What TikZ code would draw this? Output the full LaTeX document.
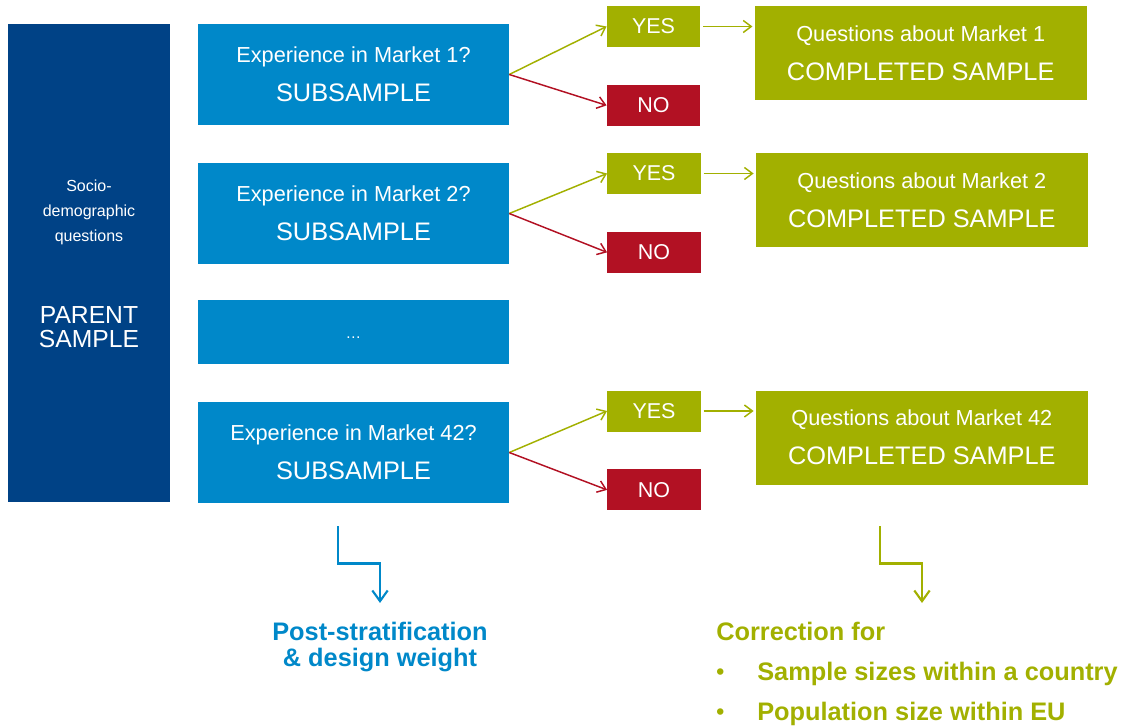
\documentclass[tikz,border=0pt]{standalone}
\usepackage{fontspec}
\setmainfont{Liberation Sans}
\usetikzlibrary{positioning,arrows.meta}
\definecolor{parentblue}{RGB}{0,66,134}
\definecolor{subblue}{RGB}{0,136,201}
\definecolor{yesgreen}{RGB}{162,176,0}
\definecolor{nored}{RGB}{178,17,35}
\newcommand\qsize{\fontsize{16.3}{29}\selectfont}
\newcommand\capsize{\fontsize{19}{29}\selectfont}
\newcommand\dotitem{\makebox[30.75pt][l]{\raisebox{0.6pt}{\fontsize{17}{17}\selectfont •}}}
\tikzset{
  boxtext/.style={inner sep=0pt,text=white,align=center},
}

\begin{document}
\begin{tikzpicture}[x=0.75pt,y=-0.75pt,
   parentbox/.style={boxtext,fill=parentblue,minimum width=121.5pt,minimum height=358.5pt},
   subbox/.style={boxtext,fill=subblue,minimum width=233.25pt,minimum height=75.75pt,font=\capsize},
   yesbox/.style={boxtext,fill=yesgreen,minimum width=70pt,minimum height=30.75pt,font=\fontsize{16.1}{19}\selectfont},
   nobox/.style={yesbox,fill=nored},
   donebox/.style={boxtext,fill=yesgreen,minimum width=249pt,minimum height=70.5pt,font=\capsize},
   yesline/.style={draw=yesgreen,line width=1.1pt,-{Straight Barb[length=6pt,width=9pt]}},
   noline/.style={yesline,draw=nored},
   wtarrow/.style={line width=1.6pt,-{Straight Barb[length=8pt,width=11.5pt]}}]
\useasboundingbox (0,0) rectangle (1126,727);
% Parent sample
\node[parentbox] (parent) at (89,263) {};
\node[boxtext,font=\fontsize{12}{19}\selectfont] (socio) at (89,212.5) {Socio-\\demographic\\questions};
\node[boxtext,font=\fontsize{18.5}{18}\selectfont] (ps) at (89,327.5) {PARENT\\SAMPLE};
% Subsamples
\node[subbox] (s1) at (353.5,74.5) {{\qsize Experience in Market 1?}\\SUBSAMPLE};
\node[subbox] (s2) at (353.5,213.5) {{\qsize Experience in Market 2?}\\SUBSAMPLE};
\node[subbox,minimum height=48pt,font=\fontsize{11.7}{14}\selectfont,text height=11pt,text depth=2pt] (sdots) at (353.5,332) {…};
\node[subbox] (s42) at (353.5,452.5) {{\qsize Experience in Market 42?}\\SUBSAMPLE};
% Market 1
\node[yesbox] (y1) at (653.5,26.5) {YES};
\node[nobox,below=28pt of y1] (n1) {NO};
\node[donebox,below right=0pt and 40.5pt of y1.north east] (c1) {{\qsize Questions about Market 1}\\COMPLETED SAMPLE};
\draw[yesline] (s1.east) -- (y1.west);
\draw[noline] (s1.east) -- (n1.west);
\draw[yesline,shorten <=2pt,shorten >=1.5pt] (y1.east) -- (y1.east -| c1.west);
% Market 2
\node[yesbox] (y2) at (654,173.5) {YES};
\node[nobox,below=28pt of y2] (n2) {NO};
\node[donebox,below right=0pt and 41pt of y2.north east] (c2) {{\qsize Questions about Market 2}\\COMPLETED SAMPLE};
\draw[yesline] (s2.east) -- (y2.west);
\draw[noline] (s2.east) -- (n2.west);
\draw[yesline,shorten <=2pt,shorten >=1.5pt] (y2.east) -- (y2.east -| c2.west);
% Market 42
\node[yesbox] (y42) at (654,411) {YES};
\node[nobox,below=28pt of y42] (n42) {NO};
\node[donebox,below right=0pt and 41pt of y42.north east] (c42) {{\qsize Questions about Market 42}\\COMPLETED SAMPLE};
\draw[yesline] (s42.east) -- (y42.west);
\draw[noline] (s42.east) -- (n42.west);
\draw[yesline,shorten <=2pt,shorten >=1.5pt] (y42.east) -- (y42.east -| c42.west);
% Weighting
\node[anchor=north,text=subblue,font=\fontsize{19}{19.5}\selectfont\bfseries,align=center,inner sep=0pt] (post) at (380,621.5) {Post-stratification\\\& design weight};
\node[anchor=north west,text=yesgreen,font=\fontsize{19}{30}\selectfont\bfseries,align=left,inner sep=0pt] (corr) at (716,621.5) {Correction for\\\dotitem Sample sizes within a country\\\dotitem Population size within EU};
\coordinate (pstop) at (338,526);
\draw[wtarrow,draw=subblue,shorten >=13.9pt] (pstop) -- ++(0,37.5) -| (post.north);
\coordinate (cstop) at (880,526);
\coordinate (cend) at (922,603);
\draw[wtarrow,draw=yesgreen] (cstop) -- ++(0,37.5) -| (cend);
\end{tikzpicture}
\end{document}
